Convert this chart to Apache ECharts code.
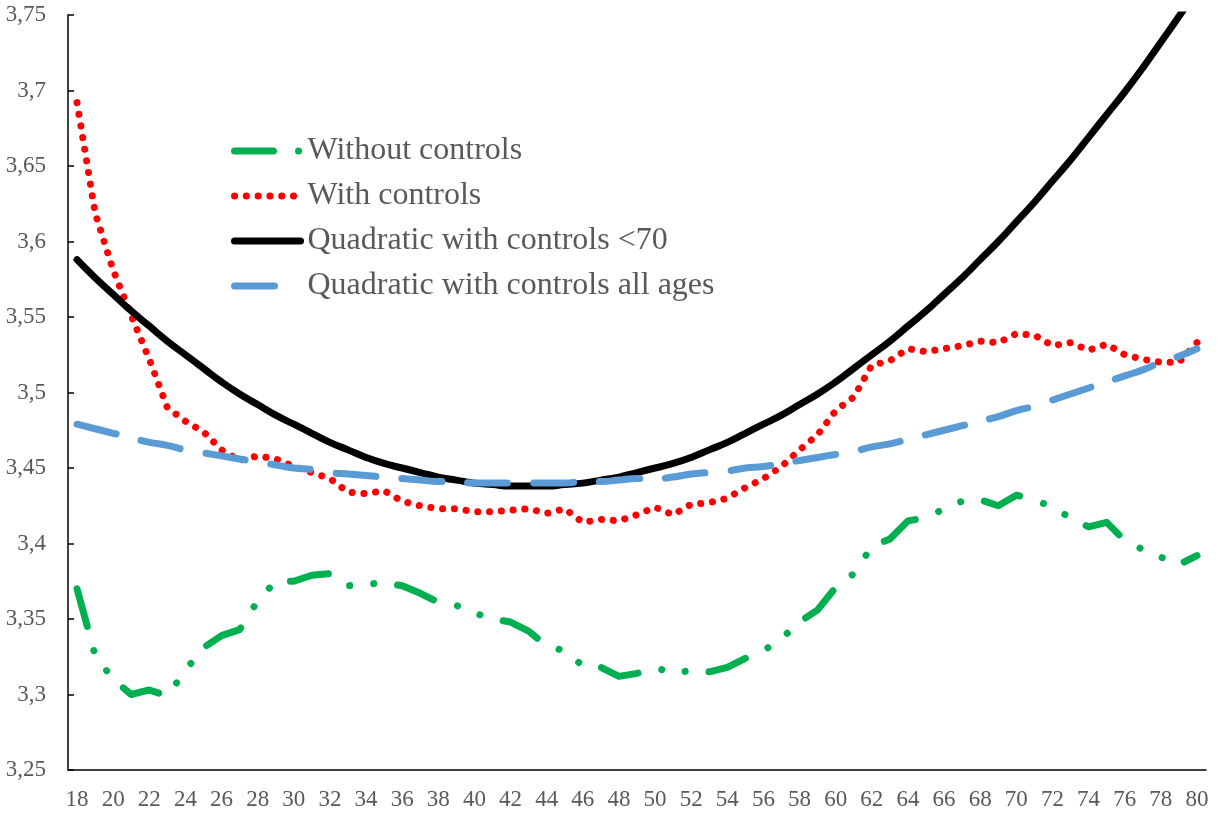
<!DOCTYPE html>
<html>
<head>
<meta charset="utf-8">
<script src="https://cdn.jsdelivr.net/npm/echarts@6/dist/echarts.min.js"></script>
<style>
  html, body { margin: 0; padding: 0; background: #fff; }
  #chart { width: 1225px; height: 816px; }
</style>
</head>
<body>
<div id="chart"></div>
<script>
// ages on the x axis, 18..80
const ages = ['18','19','20','21','22','23','24','25','26','27','28','29','30','31','32','33','34','35','36','37','38','39','40','41','42','43','44','45','46','47','48','49','50','51','52','53','54','55','56','57','58','59','60','61','62','63','64','65','66','67','68','69','70','71','72','73','74','75','76','77','78','79','80']

const withoutControls = [3.370,3.326,3.310,3.300,3.303,3.299,3.316,3.331,3.339,3.343,3.362,3.375,3.375,3.379,3.380,3.372,3.373,3.374,3.372,3.367,3.361,3.359,3.354,3.350,3.348,3.342,3.332,3.329,3.319,3.318,3.312,3.314,3.318,3.314,3.316,3.315,3.318,3.324,3.329,3.337,3.348,3.356,3.371,3.380,3.398,3.403,3.415,3.417,3.423,3.428,3.429,3.425,3.432,3.429,3.424,3.417,3.411,3.414,3.402,3.396,3.391,3.386,3.392]

const withControls = [3.692,3.619,3.581,3.551,3.522,3.490,3.481,3.474,3.462,3.455,3.458,3.456,3.451,3.447,3.443,3.434,3.433,3.435,3.428,3.425,3.423,3.423,3.421,3.421,3.422,3.423,3.420,3.423,3.414,3.416,3.415,3.419,3.424,3.419,3.426,3.427,3.430,3.437,3.443,3.451,3.462,3.472,3.488,3.497,3.518,3.521,3.529,3.527,3.529,3.531,3.534,3.533,3.539,3.538,3.531,3.533,3.528,3.532,3.525,3.522,3.520,3.520,3.533]

const quadUnder70 = [3.588,3.576,3.565,3.554,3.544,3.534,3.525,3.516,3.507,3.499,3.492,3.485,3.479,3.473,3.467,3.462,3.457,3.453,3.450,3.447,3.444,3.442,3.440,3.439,3.438,3.438,3.438,3.439,3.440,3.442,3.444,3.447,3.450,3.453,3.457,3.462,3.467,3.473,3.479,3.485,3.492,3.499,3.507,3.516,3.525,3.534,3.544,3.554,3.565,3.576,3.588,3.600,3.613,3.626,3.640,3.654,3.669,3.684,3.699,3.715,3.732,3.749,3.767]

const quadAllAges = [3.479,3.476,3.473,3.470,3.467,3.465,3.462,3.460,3.458,3.456,3.454,3.452,3.450,3.449,3.447,3.446,3.445,3.444,3.443,3.442,3.441,3.441,3.440,3.440,3.440,3.440,3.440,3.440,3.441,3.441,3.442,3.443,3.443,3.444,3.446,3.447,3.448,3.450,3.451,3.453,3.455,3.457,3.459,3.461,3.464,3.466,3.469,3.472,3.475,3.478,3.481,3.484,3.488,3.491,3.495,3.499,3.503,3.507,3.511,3.515,3.520,3.524,3.529]

const seriesNames = ['Without controls', 'With controls', 'Quadratic with controls <70', 'Quadratic with controls all ages']

const font = 'Liberation Serif'
const grey = '#595959'
const lw = 7

const chart = echarts.init(document.getElementById('chart'))
chart.setOption({
  animation: false,
  backgroundColor: '#fff',
  grid: {
    left: 68,
    right: 19,
    top: 15,
    bottom: 46
  },
  legend: {
    orient: 'vertical',
    left: 226,
    top: 130,
    padding: 5,
    itemWidth: 66,
    itemHeight: 14,
    itemGap: 13,
    itemStyle: {opacity: 0},
    lineStyle: {width: lw},
    textStyle: {
      fontFamily: font,
      fontSize: 32,
      lineHeight: 32,
      color: grey,
      padding: [0, 0, 0, 2]
    },
    data: seriesNames
  },
  xAxis: {
    type: 'category',
    data: ages,
    boundaryGap: true,
    axisLine: {lineStyle: {color: '#000', width: 1.5}},
    axisTick: {inside: true, length: 6, interval: 1, lineStyle: {color: '#000', width: 1.5}},
    axisLabel: {
      interval: 1,
      margin: 18,
      fontFamily: font,
      fontSize: 23,
      color: grey
    },
    splitLine: {show: false}
  },
  yAxis: {
    type: 'value',
    min: 3.25,
    max: 3.75,
    interval: 0.05,
    axisLine: {show: true, lineStyle: {color: '#000', width: 1.5}},
    axisTick: {show: true, inside: true, length: 6, lineStyle: {color: '#000', width: 1.5}},
    axisLabel: {
      margin: 22,
      fontFamily: font,
      fontSize: 23,
      color: grey,
      formatter: v => String(Math.round(v * 100) / 100).replace('.', ',')
    },
    splitLine: {show: false}
  },
  series: [
    {
      name: seriesNames[0],
      type: 'line',
      data: withoutControls,
      symbol: 'none',
      lineStyle: {color: '#00B050', width: lw, type: [39, 25, 0.1, 24, 0.1, 24], cap: 'round', join: 'round'},
      itemStyle: {color: '#00B050'}
    },
    {
      name: seriesNames[1],
      type: 'line',
      data: withControls,
      symbol: 'none',
      lineStyle: {color: '#FF0000', width: lw, type: [0.1, 11.7], cap: 'round', join: 'round'},
      itemStyle: {color: '#FF0000'}
    },
    {
      name: seriesNames[2],
      type: 'line',
      data: quadUnder70,
      symbol: 'none',
      smooth: true,
      lineStyle: {color: '#000000', width: lw, cap: 'round'},
      itemStyle: {color: '#000000'}
    },
    {
      name: seriesNames[3],
      type: 'line',
      data: quadAllAges,
      symbol: 'none',
      smooth: true,
      lineStyle: {color: '#5B9BD5', width: lw, type: [40, 26], cap: 'round'},
      itemStyle: {color: '#5B9BD5'}
    }
  ]
})
</script>
</body>
</html>
